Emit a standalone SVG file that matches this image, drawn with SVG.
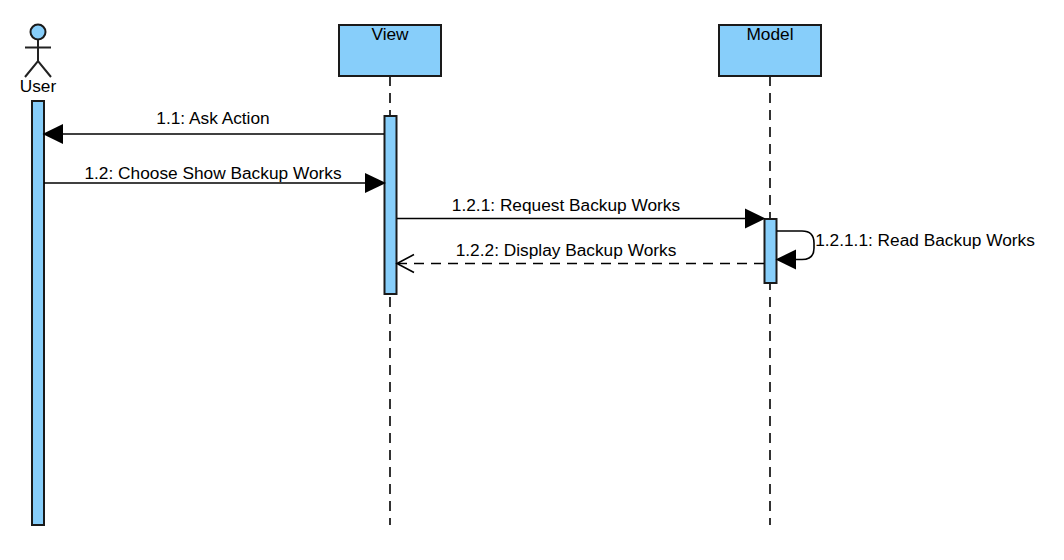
<svg xmlns="http://www.w3.org/2000/svg" width="1064" height="560" viewBox="0 0 1064 560">
<style>
.f{fill:#87cefa;stroke:#1a1a1a;stroke-width:2}
.l{fill:none;stroke:#000;stroke-width:1.6}
.d{stroke-dasharray:10 7}
.s{fill:none;stroke:#222;stroke-width:2}
text{font-family:"Liberation Sans",Arial,sans-serif;font-size:17.3px;fill:#000;text-anchor:middle}
.h{fill:#000}
</style>
<rect width="1064" height="560" fill="#fff"/>
<g id="lifelines">
<line class="l d" x1="390" y1="76" x2="390" y2="525"/>
<line class="l d" x1="770" y1="76" x2="770" y2="525"/>
</g>
<g id="user">
<circle class="f" cx="38" cy="32" r="7.500"/>
<path class="s" d="M38 40V61M25 47.500H51M25 77L38 61L51 77"/>
<text x="38" y="91.500">User</text>
<rect class="f" x="32" y="101" width="12" height="424"/>
</g>
<g id="view">
<rect class="f" x="339" y="25" width="102" height="51"/>
<text x="390" y="39.500">View</text>
<rect class="f" x="384.500" y="116" width="12" height="178"/>
</g>
<g id="model">
<rect class="f" x="719" y="25" width="102" height="51"/>
<text x="770" y="39.500">Model</text>
<rect class="f" x="764.500" y="219" width="12" height="64"/>
</g>
<g id="connectors">
<line class="l" x1="384" y1="134" x2="60" y2="134"/>
<path class="h" d="M42.500 134L63 124V144Z"/>
<line class="l" x1="44" y1="183" x2="368" y2="183"/>
<path class="h" d="M386 183L365 173V193Z"/>
<line class="l" x1="397" y1="218.500" x2="748" y2="218.500"/>
<path class="h" d="M765.500 218.500L745 208.500V228.500Z"/>
<path class="l" d="M777 231H802Q814 231 814 243V248Q814 259.500 802 259.500H793"/>
<path class="h" d="M775.500 259.500L796 249.500V269.500Z"/>
<line class="l d" x1="764" y1="263.500" x2="398" y2="263.500"/>
<path class="l" d="M414 254.500L397 263.500L414 272.500"/>
</g>
<g id="labels">
<text x="213" y="124">1.1: Ask Action</text>
<text x="213" y="179">1.2: Choose Show Backup Works</text>
<text x="566" y="211">1.2.1: Request Backup Works</text>
<text x="566" y="256">1.2.2: Display Backup Works</text>
<text x="925" y="246">1.2.1.1: Read Backup Works</text>
</g>
</svg>
